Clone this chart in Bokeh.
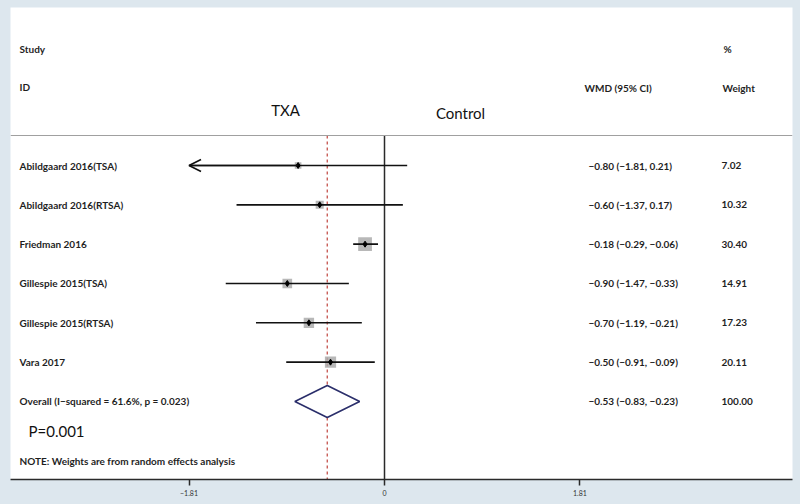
from bokeh.plotting import figure
from bokeh.models import (Range1d, LinearAxis, FixedTicker, Span, ColumnDataSource,
                          Arrow, OpenHead)
from bokeh.core.properties import value
from bokeh.embed import file_html
from bokeh.resources import INLINE

# ---- data ----
studies = ["Abildgaard 2016(TSA)", "Abildgaard 2016(RTSA)", "Friedman 2016",
           "Gillespie 2015(TSA)", "Gillespie 2015(RTSA)", "Vara 2017"]
wmd = [-0.80, -0.60, -0.18, -0.90, -0.70, -0.50]
ci_low = [-1.81, -1.37, -0.29, -1.47, -1.19, -0.91]
ci_high = [0.21, 0.17, -0.06, -0.33, -0.21, -0.09]
weights = [7.02, 10.32, 30.40, 14.91, 17.23, 20.11]
overall_label = "Overall  (I\u2212squared = 61.6%, p = 0.023)"
overall_est = -0.53
overall_low = -0.83
overall_high = -0.23
overall_weight = "100.00"
x_ticks = [-1.81, 0, 1.81]
x_tick_labels = ["\u22121.81", "0", "1.81"]

BG = "#dde7ee"
FONT = "Lato"

# layout helpers (page pixel -> data units)
X0, XS = 384.0, 108.0
Y0, YS = 165.0, 39.33
def xp(px):
    return (px - X0) / XS
def yp(py):
    return (py - Y0) / YS

def fmt(v):
    return f"{v:.2f}".replace("-", "\u2212")

p = figure(width=800, height=504, output_backend="svg", toolbar_location=None,
           x_axis_type=None, y_axis_type=None,
           x_range=Range1d(xp(10), xp(792)), y_range=Range1d(yp(479), yp(7)),
           min_border_left=10, min_border_right=8, min_border_top=7, min_border_bottom=25)
p.background_fill_color = "white"
p.border_fill_color = BG
p.outline_line_color = None

# bottom axis
ax = LinearAxis(ticker=FixedTicker(ticks=x_ticks),
                major_label_overrides={t: l for t, l in zip(x_ticks, x_tick_labels)})
ax.axis_line_color = "#2a2a2a"
ax.axis_line_width = 1.5
ax.major_tick_line_color = "#2a2a2a"
ax.major_tick_line_width = 1.5
ax.major_tick_in = 0
ax.major_tick_out = 6
ax.minor_tick_line_color = None
ax.major_label_text_font = FONT
ax.major_label_text_font_size = "7px"
ax.major_label_text_color = "#333333"
ax.major_label_standoff = 4
p.add_layout(ax, "below")

# header separator line
p.add_layout(Span(location=yp(135), dimension="width", line_color="#a0a0a0", line_width=1.2))

n = len(studies)
rows = list(range(n))
y_bottom = yp(479)

# vertical lines: no effect (0) and overall estimate (dashed)
p.segment(x0=[0], y0=[yp(135)], x1=[0], y1=[y_bottom], line_color="#2a2a2a", line_width=1.5)
p.segment(x0=[overall_est], y0=[yp(135)], x1=[overall_est], y1=[y_bottom],
          line_color="#c4504a", line_width=1.3, line_dash="3 3")

src = ColumnDataSource(dict(
    y=rows, study=studies, est=wmd, lo=ci_low, hi=ci_high, w=weights,
    size=[2.5 * (w ** 0.5) for w in weights],
    ci=[f"{fmt(e)} ({fmt(l)}, {fmt(h)})" for e, l, h in zip(wmd, ci_low, ci_high)],
    wt=[f"{w:.2f}" for w in weights],
))

# weight boxes
p.scatter(x="est", y="y", size="size", marker="square", source=src,
          fill_color="#acacac", line_color=None, fill_alpha=0.85)
# CI lines
p.segment(x0="lo", y0="y", x1="hi", y1="y", source=src, line_color="#111111", line_width=1.6)
# point estimates
p.scatter(x="est", y="y", size=6, marker="diamond", source=src,
          fill_color="#000000", line_color="#000000")

# arrow for truncated CI (first study)
p.add_layout(Arrow(end=OpenHead(size=12, line_color="#111111", line_width=1.6),
                   x_start=wmd[0], y_start=0, x_end=ci_low[0], y_end=0,
                   line_color="#111111", line_width=1.6))

# overall diamond
oy = n
h = 16.0 / YS
p.patch(x=[overall_low, overall_est, overall_high, overall_est],
        y=[oy, oy - h, oy, oy + h], fill_color="white", line_color="#2b2f6b", line_width=1.6)

# row texts
txt = dict(text_font=value(FONT), text_font_size="10px", text_font_style="bold",
           text_color="#1f1f1f", text_baseline="middle")
p.text(x=xp(19), y="y", text="study", source=src, **txt)
p.text(x=xp(588), y="y", text="ci", source=src, **txt)
p.text(x=xp(721), y="y", text="wt", source=src, **txt)
p.text(x=[xp(19)], y=[oy], text=[overall_label], **txt)
p.text(x=[xp(588)], y=[oy],
       text=[f"{fmt(overall_est)} ({fmt(overall_low)}, {fmt(overall_high)})"], **txt)
p.text(x=[xp(721)], y=[oy], text=[overall_weight], **txt)

# headers
p.text(x=[xp(19)], y=[yp(48)], text=["Study"], **txt)
p.text(x=[xp(19)], y=[yp(86)], text=["ID"], **txt)
p.text(x=[xp(584)], y=[yp(87)], text=["WMD (95% CI)"], **txt)
p.text(x=[xp(723)], y=[yp(48)], text=["%"], **txt)
p.text(x=[xp(722)], y=[yp(87)], text=["Weight"], **txt)

big = dict(text_font=value(FONT), text_font_size="15px", text_color="#111111",
           text_baseline="middle")
p.text(x=[xp(285)], y=[yp(109)], text=["TXA"], text_align="center", **big)
p.text(x=[xp(460)], y=[yp(112)], text=["Control"], text_align="center", **big)
p.text(x=[xp(28)], y=[yp(430)], text=["P=0.001"], **big)
p.text(x=[xp(19)], y=[yp(460)], text=["NOTE: Weights are from random effects analysis"], **txt)

html = file_html(p, INLINE)
html = html.replace("<head>", "<head><style>html,body{background:%s;overflow:hidden;}</style>" % BG, 1)
open("out.html", "w").write(html)
